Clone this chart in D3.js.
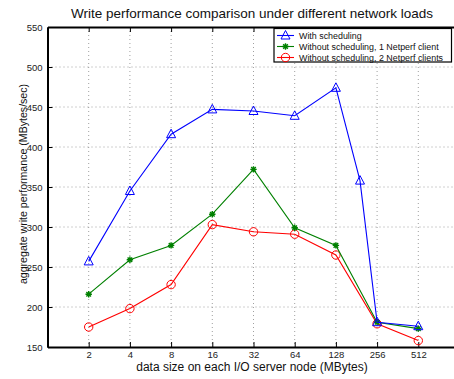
<!DOCTYPE html>
<html>
<head>
<meta charset="utf-8">
<script src="https://cdn.jsdelivr.net/npm/d3@7"></script>
<style>
  html, body { margin: 0; padding: 0; background: #fff; }
  svg { display: block; font-family: "Liberation Sans", Arial, Helvetica, sans-serif; }
</style>
</head>
<body>
<svg id="chart" width="454" height="379"></svg>
<script>
// Data sizes per I/O server node (MBytes)
const xTicks = [2, 4, 8, 16, 32, 64, 128, 256, 512];
const yTicks = [150, 200, 250, 300, 350, 400, 450, 500, 550];

const schedSizes = [2, 4, 8, 16, 32, 64, 128, 192, 256, 512];
const schedValues = [257, 345, 416, 447, 445, 439, 474, 358, 181, 176];

const oneClientSizes = [2, 4, 8, 16, 32, 64, 128, 256, 512];
const oneClientValues = [216, 259, 277, 316, 372, 299, 277, 181, 173];

const twoClientSizes = [2, 4, 8, 16, 32, 64, 128, 256, 512];
const twoClientValues = [175, 198, 228, 303, 294, 291, 265, 179, 158];

const seriesNames = [
  "With scheduling",
  "Without scheduling, 1 Netperf client",
  "Without scheduling, 2 Netperf clients"
];

const svg = d3.select("#chart");
const plotL = 47.5, plotT = 27, plotB = 347, plotR = 459.5;

const x = d3.scaleLog().base(2).domain([1, 1024]).range([plotL, plotR]);
const y = d3.scaleLinear().domain([150, 550]).range([plotB, plotT]);

// dotted grid
const grid = svg.append("g").attr("stroke", "#888").attr("stroke-width", 0.8)
  .attr("stroke-dasharray", "1,3");
grid.selectAll(".gx").data(xTicks).join("line")
  .attr("x1", d => x(d)).attr("x2", d => x(d)).attr("y1", plotT).attr("y2", plotB);
grid.selectAll(".gy").data(yTicks.slice(1, -1)).join("line")
  .attr("x1", plotL).attr("x2", plotR).attr("y1", d => y(d)).attr("y2", d => y(d));

// axes with inward ticks
const xAxis = svg.append("g").attr("transform", `translate(0,${plotB})`)
  .call(d3.axisBottom(x).tickValues(xTicks).tickFormat(d3.format("d")).tickSizeInner(-5).tickSizeOuter(0).tickPadding(4));
const xTop = svg.append("g").attr("transform", `translate(0,${plotT})`)
  .call(d3.axisTop(x).tickValues(xTicks).tickFormat("").tickSizeInner(-5).tickSizeOuter(0));
const yAxis = svg.append("g").attr("transform", `translate(${plotL},0)`)
  .call(d3.axisLeft(y).tickValues(yTicks).tickSizeInner(-5).tickSizeOuter(0).tickPadding(5));

[xAxis, xTop, yAxis].forEach(g => {
  g.select(".domain").attr("stroke", "#000").attr("stroke-width", 2);
  g.selectAll(".tick line").attr("stroke", "#000").attr("stroke-width", 1);
  g.selectAll("text").attr("fill", "#222").attr("font-size", 9.5)
    .attr("font-family", "Liberation Sans, Arial, sans-serif");
});

// plot series
const line = d3.line().x(d => x(d[0])).y(d => y(d[1]));
const series = [
  { color: "#0000ff", pts: d3.zip(schedSizes, schedValues), marker: "tri" },
  { color: "#008000", pts: d3.zip(oneClientSizes, oneClientValues), marker: "star" },
  { color: "#ff0000", pts: d3.zip(twoClientSizes, twoClientValues), marker: "circ" }
];

function drawMarker(g, type, color, cx, cy) {
  if (type === "tri") {
    g.append("path")
      .attr("d", `M${cx},${cy - 5}L${cx + 4.5},${cy + 3.5}L${cx - 4.5},${cy + 3.5}Z`)
      .attr("fill", "none").attr("stroke", color).attr("stroke-width", 1);
  } else if (type === "circ") {
    g.append("circle").attr("cx", cx).attr("cy", cy).attr("r", 4.2)
      .attr("fill", "none").attr("stroke", color).attr("stroke-width", 1);
  } else {
    const r = 3.2, s = r * 0.72;
    g.append("path")
      .attr("d", `M${cx - r},${cy}H${cx + r}M${cx},${cy - r}V${cy + r}M${cx - s},${cy - s}L${cx + s},${cy + s}M${cx - s},${cy + s}L${cx + s},${cy - s}`)
      .attr("stroke", color).attr("stroke-width", 1.4).attr("fill", "none");
  }
}

// draw in reverse so blue sits on top
series.slice().reverse().forEach(s => {
  const g = svg.append("g");
  g.append("path").datum(s.pts).attr("d", line)
    .attr("fill", "none").attr("stroke", s.color).attr("stroke-width", 1.1);
  s.pts.forEach(p => drawMarker(g, s.marker, s.color, x(p[0]), y(p[1])));
});

// legend
const lg = svg.append("g");
lg.append("rect").attr("x", 274).attr("y", 28.5).attr("width", 177.5).attr("height", 33.5)
  .attr("fill", "#fff").attr("stroke", "#000").attr("stroke-width", 1.2);
series.forEach((s, i) => {
  const ly = 35.5 + i * 11;
  lg.append("line").attr("x1", 277).attr("x2", 294).attr("y1", ly).attr("y2", ly)
    .attr("stroke", s.color).attr("stroke-width", 1.1);
  drawMarker(lg, s.marker, s.color, 285.5, ly);
  lg.append("text").attr("x", 299).attr("y", ly + 3.3).attr("font-size", 8.9)
    .attr("fill", "#111").text(seriesNames[i]);
});

// titles
svg.append("text").attr("x", 252).attr("y", 18).attr("text-anchor", "middle")
  .attr("font-size", 13.5).attr("fill", "#111")
  .text("Write performance comparison under different network loads");
svg.append("text").attr("x", 252).attr("y", 371).attr("text-anchor", "middle")
  .attr("font-size", 12).attr("fill", "#111")
  .text("data size on each I/O server node (MBytes)");
svg.append("text").attr("transform", "translate(27,184) rotate(-90)")
  .attr("text-anchor", "middle").attr("font-size", 10.6).attr("fill", "#111")
  .text("aggregate write performance (MBytes/sec)");
</script>
</body>
</html>
